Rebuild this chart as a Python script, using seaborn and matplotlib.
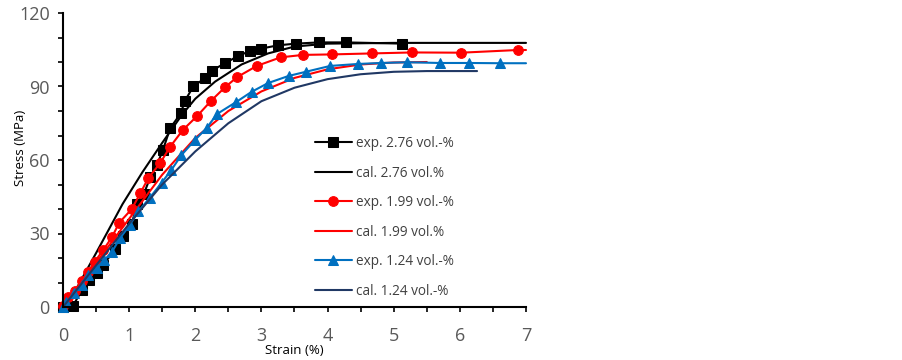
import matplotlib
matplotlib.use("Agg")
import matplotlib.pyplot as plt
from matplotlib.ticker import MultipleLocator
import seaborn as sns
import pandas as pd

# exp. 2.76 vol.-%
exp276_x = [0, 0.15, 0.29, 0.40, 0.51, 0.60, 0.79, 0.91, 1.04, 1.12, 1.22, 1.32, 1.42, 1.51,
            1.62, 1.78, 1.84, 1.97, 2.15, 2.25, 2.45, 2.65, 2.83, 3.00, 3.25, 3.52, 3.87, 4.28, 5.13]
exp276_y = [0, 0.5, 7, 11, 14, 17, 23.5, 29, 34, 42, 46, 53, 58, 64,
            73, 79, 84, 90, 93.5, 96.5, 99.5, 102.5, 104.5, 105.5, 106.8, 107.5, 108, 108, 107.5]
# cal. 2.76 vol.%
cal276_x = [0.05, 0.5, 0.9, 1.2, 1.5, 1.8, 2.0, 2.3, 2.7, 3.1, 3.5, 4.0, 5.0, 7.0]
cal276_y = [0, 22, 42, 55, 67, 78.5, 85, 92, 99, 103.5, 106.3, 107.5, 107.8, 107.8]

# exp. 1.99 vol.-%  (last point: line end without marker)
exp199_x = [0, 0.08, 0.18, 0.28, 0.38, 0.48, 0.61, 0.74, 0.85, 1.04, 1.17, 1.29, 1.47, 1.62,
            1.81, 2.03, 2.24, 2.45, 2.63, 2.93, 3.29, 3.63, 4.07, 4.67, 5.28, 6.02, 6.88, 7.0]
exp199_y = [0.5, 4, 6.6, 10.7, 14.4, 18.5, 23.3, 28.5, 34.4, 40, 46.5, 52.6, 58.8, 65.4,
            72.2, 78, 84.2, 89.7, 93.8, 98.4, 101.9, 102.9, 103.1, 103.5, 103.9, 103.8, 104.9, 104.9]
# cal. 1.99 vol.%
cal199_x = [0, 0.5, 1.0, 1.5, 2.0, 2.5, 3.0, 3.5, 4.0, 4.5, 5.0, 5.5]
cal199_y = [0, 18, 36, 54, 69, 80, 88, 93.5, 97, 99, 99.8, 100]

# exp. 1.24 vol.-%  (last point: line end without marker)
exp124_x = [0, 0.05, 0.17, 0.28, 0.38, 0.52, 0.62, 0.74, 0.86, 1.01, 1.14, 1.31, 1.49, 1.64,
            1.79, 1.99, 2.17, 2.33, 2.62, 2.85, 3.10, 3.41, 3.67, 4.04, 4.46, 4.81, 5.20, 5.70,
            6.14, 6.61, 7.0]
exp124_y = [0, 2, 5.6, 9, 13, 16, 19, 22.5, 28, 33.5, 39, 44.5, 50.7, 56,
            62, 68, 73, 78.8, 83.7, 87.8, 91.4, 94.3, 96, 98.4, 99.2, 99.6, 99.9, 99.6,
            99.6, 99.5, 99.5]
# cal. 1.24 vol.-%
cal124_x = [0, 0.5, 1.0, 1.5, 2.0, 2.5, 3.0, 3.5, 4.0, 4.5, 5.0, 5.5, 6.26]
cal124_y = [0, 17, 34, 50, 63.5, 75, 84, 89.5, 93, 95, 96, 96.3, 96.3]

BLACK = "#000000"
RED = "#FF0000"
BLUE = "#0070C0"
NAVY = "#203864"

sns.set_style("ticks")
plt.rcParams["font.family"] = ["Open Sans", "DejaVu Sans"]

fig = plt.figure(figsize=(9.03, 3.6), dpi=100)
ax = fig.add_axes([63 / 903, 53 / 360, 463 / 903, 294 / 360])

series = [
    (exp276_x, exp276_y, "exp. 2.76 vol.-%", BLACK, "s", 6.5, False),
    (cal276_x, cal276_y, "cal. 2.76 vol.%", BLACK, None, 0, False),
    (exp199_x, exp199_y, "exp. 1.99 vol.-%", RED, "o", 7, True),
    (cal199_x, cal199_y, "cal. 1.99 vol.%", RED, None, 0, False),
    (exp124_x, exp124_y, "exp. 1.24 vol.-%", BLUE, "^", 7.5, True),
    (cal124_x, cal124_y, "cal. 1.24 vol.-%", NAVY, None, 0, False),
]

for xs, ys, label, color, marker, ms, skip_last in series:
    df = pd.DataFrame({"x": xs, "y": ys})
    kw = {}
    if marker:
        n = len(xs) - 1 if skip_last else len(xs)
        kw = dict(marker=marker, markersize=ms, markeredgecolor=color,
                  markerfacecolor=color, markevery=list(range(n)))
    sns.lineplot(data=df, x="x", y="y", ax=ax, sort=False, estimator=None,
                 color=color, linewidth=1.5, label=label, clip_on=False, **kw)

ax.set_xlim(0, 7)
ax.set_ylim(0, 120)
ax.xaxis.set_major_locator(MultipleLocator(1))
ax.xaxis.set_minor_locator(MultipleLocator(0.5))
ax.yaxis.set_major_locator(MultipleLocator(30))
ax.yaxis.set_minor_locator(MultipleLocator(10))
ax.tick_params(axis="both", which="both", direction="out", length=3.6, width=1.2,
               colors="black", labelcolor="#595959", labelsize=13)
ax.tick_params(axis="x", which="both", pad=11)
ax.tick_params(axis="y", which="both", pad=6)
for side in ["top", "right"]:
    ax.spines[side].set_visible(False)
for side in ["left", "bottom"]:
    ax.spines[side].set_linewidth(1.5)
    ax.spines[side].set_color("black")

ax.set_xlabel("Strain (%)", fontsize=9.5, color="black")
ax.set_ylabel("Stress (MPa)", fontsize=9.5, color="black")
ax.xaxis.set_label_coords(0.5, -0.125)
ax.yaxis.set_label_coords(-0.078, 0.54)

leg = ax.legend(loc="upper left", bbox_to_anchor=(315 / 903, 1 - 136 / 360),
                bbox_transform=fig.transFigure, frameon=False, fontsize=9.8,
                handlelength=2.7, labelspacing=1.07, handletextpad=0.3,
                borderpad=0, borderaxespad=0)
for t in leg.get_texts():
    t.set_color("#404040")

fig.savefig("out.png", dpi=100)
